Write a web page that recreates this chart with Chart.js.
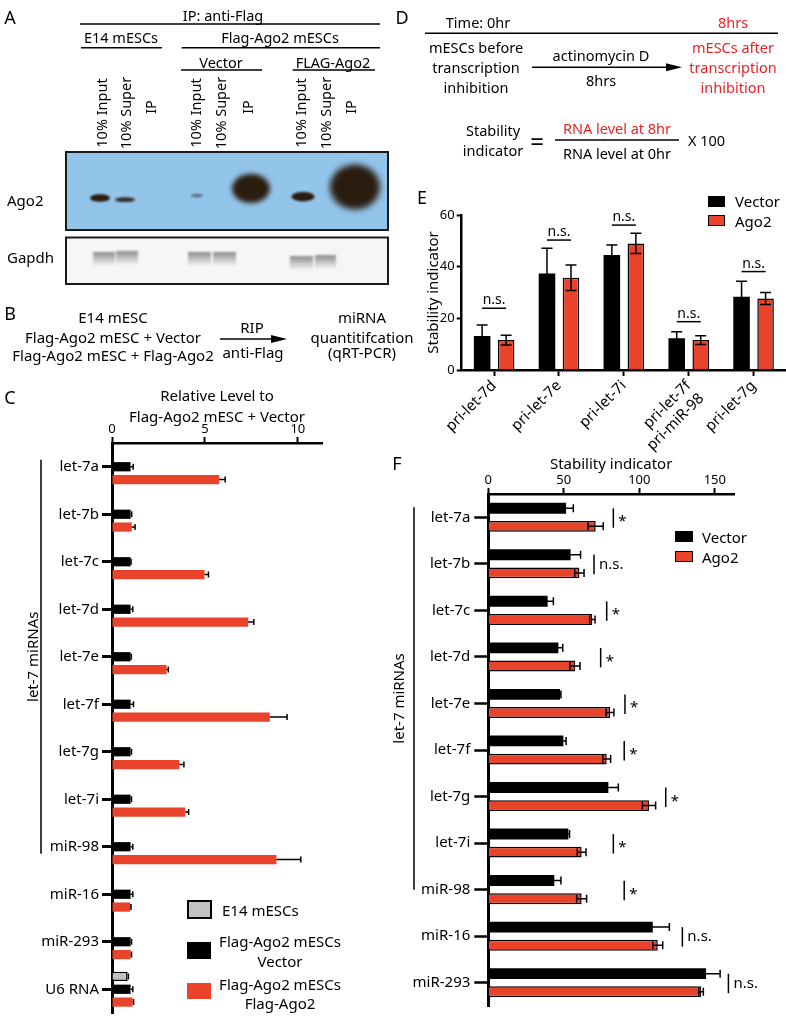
<!DOCTYPE html>
<html>
<head>
<meta charset="utf-8">
<title>Ago2 and let-7 stability</title>
<script src="https://cdn.jsdelivr.net/npm/chart.js@4.4.0/dist/chart.umd.min.js"></script>
<style>
    html, body { margin: 0; padding: 0; background: #fff; }
    body { width: 786px; height: 1019px; overflow: hidden; position: relative; font-family: 'Noto Sans', sans-serif; color: #000; }
    canvas { position: absolute; }
    .box { position: absolute; box-sizing: border-box; }
</style>
</head>
<body>
<canvas id="deco" width="786" height="370" style="left:0;top:0"></canvas>
<canvas id="chartC" width="400" height="645" style="left:0;top:380px"></canvas>
<canvas id="chartE" width="386" height="290" style="left:400px;top:170px"></canvas>
<canvas id="chartF" width="396" height="579" style="left:390px;top:440px"></canvas>

<div class="box" style="left:187px;top:900px;width:25px;height:19px;background:#c2c2c2;border:2.5px solid #000"></div>
<div class="box" style="left:187px;top:942px;width:24px;height:17px;background:#000"></div>
<div class="box" style="left:187px;top:983px;width:24px;height:16px;background:#e9432b"></div>
<div class="box" style="left:708px;top:196px;width:17px;height:11px;background:#000"></div>
<div class="box" style="left:708px;top:215px;width:17px;height:11px;background:#e9432b;border:1.5px solid #000"></div>
<div class="box" style="left:675px;top:531px;width:18px;height:11px;background:#000"></div>
<div class="box" style="left:675px;top:551px;width:18px;height:11px;background:#e9432b;border:1.5px solid #000"></div>

<script>
    // C: RIP qRT-PCR, relative level to Flag-Ago2 mESC + Vector
    const ripLabels = ['let-7a', 'let-7b', 'let-7c', 'let-7d', 'let-7e', 'let-7f', 'let-7g', 'let-7i', 'miR-98', 'miR-16', 'miR-293', 'U6 RNA']
    const ripE14 = [null, null, null, null, null, null, null, null, null, null, null, 0.84]
    const ripE14Err = [null, null, null, null, null, null, null, null, null, null, null, 0.04]
    const ripVector = [1, 1, 1, 1, 1, 1, 1, 1, 1, 1, 1, 1]
    const ripVectorErr = [0.14, 0.06, 0.03, 0.12, 0.04, 0.16, 0.05, 0.05, 0.12, 0.12, 0.05, 0.12]
    const ripAgo2 = [5.77, 1.06, 4.98, 7.33, 2.94, 8.49, 3.62, 3.94, 8.85, 0.97, 1.0, 1.11]
    const ripAgo2Err = [0.32, 0.18, 0.21, 0.3, 0.09, 0.93, 0.25, 0.18, 1.31, 0.05, 0.05, 0.05]
    const ripTicks = [0, 5, 10]

    // E: pri-miRNA stability indicator
    const priLabels = ['pri-let-7d', 'pri-let-7e', 'pri-let-7i', ['pri-let-7f', 'pri-miR-98'], 'pri-let-7g']
    const priVector = [13.2, 37.4, 44.5, 12.3, 28.4]
    const priVectorErr = [4.2, 9.7, 3.9, 2.5, 6.0]
    const priAgo2 = [11.6, 35.7, 49.0, 11.6, 27.7]
    const priAgo2Err = [1.9, 4.9, 3.9, 1.7, 2.3]
    const priSig = ['n.s.', 'n.s.', 'n.s.', 'n.s.', 'n.s.']
    const priSigAt = [23.9, 50.3, 56.1, 18.7, 38.1]

    // F: mature miRNA stability indicator
    const stabLabels = ['let-7a', 'let-7b', 'let-7c', 'let-7d', 'let-7e', 'let-7f', 'let-7g', 'let-7i', 'miR-98', 'miR-16', 'miR-293']
    const stabVector = [51.5, 54.5, 39.3, 46.4, 47.5, 49.7, 79.5, 53.0, 43.7, 108.9, 144.2]
    const stabVectorErr = [4.8, 6.6, 3.8, 2.9, 0.6, 1.8, 6.6, 0.8, 4.4, 11.0, 9.3]
    const stabAgo2 = [71.1, 60.3, 68.9, 57.4, 80.6, 78.4, 106.4, 61.8, 61.8, 112.2, 140.9]
    const stabAgo2Err = [5.0, 3.1, 1.8, 3.3, 2.6, 2.6, 4.4, 2.9, 3.3, 3.3, 1.5]
    const stabSig = ['*', 'n.s.', '*', '*', '*', '*', '*', '*', '*', 'n.s.', 'n.s.']
    const stabSigAt = [82.8, 70, 78.4, 74.4, 90.5, 90, 117.5, 82.8, 90, 128.5, 159]
    const stabTicks = [0, 50, 100, 150]

    const RED = '#e9432b'
    const TXT_RED = '#ec2227'
    const FONT = "'Noto Sans', sans-serif"

    Chart.defaults.font.family = FONT
    Chart.defaults.color = '#000'

    // plain text labels
    function T(s, x, y, o) {
        o = o || {}
        const d = document.createElement('div')
        const tx = o.align === 'left' ? '0' : (o.align === 'right' ? '-100%' : '-50%')
        d.textContent = s
        d.style.cssText = 'position:absolute;white-space:nowrap;line-height:1;left:' + x + 'px;top:' + y + 'px;' +
            'font-size:' + (o.size || 15) + 'px;color:' + (o.color || '#000') + ';' +
            'transform:translate(' + tx + ',-50%)' + (o.rot ? ' rotate(' + o.rot + 'deg)' : '') + ';'
        document.body.appendChild(d)
    }

    // panel letters
    T('A', 10, 17, {size: 18}); T('B', 10, 313, {size: 18}); T('C', 10, 397, {size: 18})
    T('D', 402, 17, {size: 18}); T('E', 422, 197, {size: 18}); T('F', 397, 463, {size: 18})

    // A header
    T('IP: anti-Flag', 223, 15, {size: 14.5})
    T('E14 mESCs', 121, 37, {size: 14.5})
    T('Flag-Ago2 mESCs', 280, 37, {size: 14.5})
    T('Vector', 221, 62, {size: 14.5})
    T('FLAG-Ago2', 333, 62, {size: 14.5})
    const lanes = [[101, '10% Input'], [125, '10% Super'], [150, 'IP'], [195, '10% Input'], [220, '10% Super'], [247, 'IP'],
        [300, '10% Input'], [325, '10% Super'], [350, 'IP']]
    lanes.forEach(function (l) { T(l[1], l[0], l[1] === 'IP' ? 107 : 112.5, {size: 14.5, rot: -90}) })
    T('Ago2', 7, 200, {align: 'left'})
    T('Gapdh', 7, 257, {align: 'left'})

    // B
    T('E14 mESC', 113, 317); T('Flag-Ago2 mESC + Vector', 113, 337); T('Flag-Ago2 mESC + Flag-Ago2', 113, 355)
    T('RIP', 252, 327); T('anti-Flag', 253, 352)
    T('miRNA', 362, 317); T('quantitifcation', 362, 337); T('(qRT-PCR)', 362, 352)

    // D
    T('Time: 0hr', 478, 22, {size: 14.5}); T('8hrs', 733, 22, {size: 14.5, color: TXT_RED})
    T('mESCs before', 476, 47, {size: 14.5}); T('transcription', 476, 67, {size: 14.5}); T('inhibition', 476, 87, {size: 14.5})
    T('actinomycin D', 601, 55, {size: 14.5}); T('8hrs', 601, 80, {size: 14.5})
    T('mESCs after', 733, 47, {size: 14.5, color: TXT_RED}); T('transcription', 733, 67, {size: 14.5, color: TXT_RED})
    T('inhibition', 733, 87, {size: 14.5, color: TXT_RED})
    T('Stability', 493, 130, {size: 14.5}); T('indicator', 493, 150, {size: 14.5})
    T('=', 537, 141, {size: 24})
    T('RNA level at 8hr', 617, 128, {size: 14.5, color: TXT_RED}); T('RNA level at 0hr', 617, 153, {size: 14.5})
    T('X 100', 688, 140, {size: 14.5, align: 'left'})

    // legends
    T('E14 mESCs', 222, 910, {align: 'left'})
    T('Flag-Ago2 mESCs', 280, 941); T('Vector', 280, 961)
    T('Flag-Ago2 mESCs', 280, 984); T('Flag-Ago2', 280, 1003)
    T('Vector', 735, 201, {align: 'left'}); T('Ago2', 735, 221, {align: 'left'})
    T('Vector', 702, 537, {align: 'left'}); T('Ago2', 702, 557, {align: 'left'})

    // lines, arrows and the blot
    const g = document.getElementById('deco').getContext('2d')
    function hline(x0, x1, y, w) {
        g.strokeStyle = '#000'; g.lineWidth = w || 1.5
        g.beginPath(); g.moveTo(x0, y); g.lineTo(x1, y); g.stroke()
    }
    function arrow(x0, x1, y) {
        hline(x0, x1 - 12, y, 1.5)
        g.fillStyle = '#000'
        g.beginPath(); g.moveTo(x1 - 16, y - 4); g.lineTo(x1, y); g.lineTo(x1 - 16, y + 4); g.closePath(); g.fill()
    }
    hline(80, 380, 24); hline(81, 162, 47.7); hline(181.7, 380, 47.7); hline(181, 262, 70); hline(292.7, 375, 70)
    arrow(220, 287, 339)
    hline(425, 778, 33.3); arrow(532, 682, 67.3); hline(555, 679, 140)

    function blob(cx, cy, rx, ry, color, blur) {
        g.save()
        g.filter = 'blur(' + blur + 'px)'
        g.fillStyle = color
        g.beginPath(); g.ellipse(cx, cy, rx, ry, 0, 0, Math.PI * 2); g.fill()
        g.restore()
    }
    // Ago2 film
    g.fillStyle = '#93c4ea'; g.fillRect(66, 152, 322, 78)
    g.save(); g.beginPath(); g.rect(66, 152, 322, 78); g.clip()
    blob(100, 198, 10, 3.8, '#2a1c0f', 1)
    blob(125, 199.7, 10, 2.4, 'rgba(42,28,15,0.9)', 1)
    blob(197, 195.5, 6, 1.8, 'rgba(42,28,15,0.5)', 1.2)
    blob(251, 188.5, 19, 14.5, '#2a1c0f', 2.5)
    blob(303, 196.7, 11.5, 4.8, '#2a1c0f', 1)
    blob(355, 187, 25, 22.5, '#2a1c0f', 3)
    g.restore()
    g.lineWidth = 2; g.strokeStyle = '#1a1a1a'; g.strokeRect(66, 152, 322, 78)
    // Gapdh film
    g.fillStyle = '#f6f6f6'; g.fillRect(66, 237.5, 322, 46.5)
    g.save(); g.beginPath(); g.rect(66, 237.5, 322, 46.5); g.clip()
    ;[[93, 115, 0], [116, 138, -1], [188, 211, 0], [213, 236, 0], [290, 313, 4], [315, 336, 3]].forEach(function (b) {
        const top = 252 + b[2]
        const grad = g.createLinearGradient(0, top, 0, top + 13)
        grad.addColorStop(0, 'rgba(130,130,130,0.9)')
        grad.addColorStop(0.35, 'rgba(150,150,150,0.75)')
        grad.addColorStop(1, 'rgba(200,200,200,0.3)')
        g.save(); g.filter = 'blur(1.3px)'
        g.fillStyle = grad; g.fillRect(b[0], top, b[1] - b[0], 13)
        g.restore()
    })
    g.restore()
    g.lineWidth = 2; g.strokeStyle = '#1a1a1a'; g.strokeRect(66, 237.5, 322, 46.5)

    // chart plugins
    const errorBars = {
        id: 'errorBars',
        afterDatasetsDraw(chart, args, opts) {
            const ctx = chart.ctx
            const horiz = chart.options.indexAxis === 'y'
            const vs = horiz ? chart.scales.x : chart.scales.y
            const cap = opts.cap / 2
            ctx.save()
            ctx.strokeStyle = '#000'
            ctx.lineWidth = opts.width || 1.5
            chart.data.datasets.forEach(function (ds, di) {
                if (!ds.errors) return
                const meta = chart.getDatasetMeta(di)
                meta.data.forEach(function (bar, i) {
                    const v = ds.data[i], e = ds.errors[i]
                    if (v == null || e == null) return
                    const hi = vs.getPixelForValue(v + e)
                    const lo = vs.getPixelForValue(opts.twoSided ? v - e : v)
                    ctx.beginPath()
                    if (horiz) {
                        const c = bar.y
                        ctx.moveTo(lo, c); ctx.lineTo(hi, c)
                        ctx.moveTo(hi, c - cap); ctx.lineTo(hi, c + cap)
                        if (opts.twoSided) { ctx.moveTo(lo, c - cap); ctx.lineTo(lo, c + cap) }
                    } else {
                        const c = bar.x
                        ctx.moveTo(c, lo); ctx.lineTo(c, hi)
                        ctx.moveTo(c - cap, hi); ctx.lineTo(c + cap, hi)
                        if (opts.twoSided) { ctx.moveTo(c - cap, lo); ctx.lineTo(c + cap, lo) }
                    }
                    ctx.stroke()
                })
            })
            ctx.restore()
        }
    }

    const groupBracket = {
        id: 'groupBracket',
        afterDraw(chart, args, opts) {
            const y = chart.scales.y, ctx = chart.ctx
            const top = y.getPixelForValue(opts.from) - opts.padTop
            const bot = y.getPixelForValue(opts.to) + opts.padBottom
            ctx.save()
            ctx.strokeStyle = '#000'; ctx.lineWidth = 1.5
            ctx.beginPath(); ctx.moveTo(opts.x, top); ctx.lineTo(opts.x, bot); ctx.stroke()
            ctx.translate(opts.x - opts.gap, (top + bot) / 2)
            ctx.rotate(-Math.PI / 2)
            ctx.font = '15px ' + FONT
            ctx.fillStyle = '#000'; ctx.textAlign = 'center'; ctx.textBaseline = 'middle'
            ctx.fillText(opts.text, 0, 0)
            ctx.restore()
        }
    }

    // vertical mark + label beside each pair (panel F)
    const sideSig = {
        id: 'sideSig',
        afterDatasetsDraw(chart, args, opts) {
            const x = chart.scales.x, y = chart.scales.y, ctx = chart.ctx
            ctx.save()
            ctx.strokeStyle = '#000'; ctx.lineWidth = 1.5; ctx.fillStyle = '#000'
            ctx.font = '15px ' + FONT; ctx.textAlign = 'left'; ctx.textBaseline = 'alphabetic'
            opts.at.forEach(function (v, i) {
                const px = x.getPixelForValue(v), py = y.getPixelForValue(i)
                ctx.beginPath(); ctx.moveTo(px, py - 9); ctx.lineTo(px, py + 10.5); ctx.stroke()
                const s = opts.text[i]
                ctx.fillText(s, px + 5, s === '*' ? py + 9 : py + 5)
            })
            ctx.restore()
        }
    }

    // horizontal bar + label above each pair (panel E)
    const topSig = {
        id: 'topSig',
        afterDatasetsDraw(chart, args, opts) {
            const y = chart.scales.y, ctx = chart.ctx
            const m0 = chart.getDatasetMeta(0), m1 = chart.getDatasetMeta(1)
            ctx.save()
            ctx.strokeStyle = '#000'; ctx.lineWidth = 1.5; ctx.fillStyle = '#000'
            ctx.font = '14px ' + FONT; ctx.textAlign = 'center'; ctx.textBaseline = 'alphabetic'
            opts.at.forEach(function (v, i) {
                const py = y.getPixelForValue(v)
                const x0 = m0.data[i].x, x1 = m1.data[i].x
                ctx.beginPath(); ctx.moveTo(x0, py); ctx.lineTo(x1, py); ctx.stroke()
                ctx.fillText(opts.text[i], (x0 + x1) / 2, py - 4)
            })
            ctx.restore()
        }
    }

    const noLegend = {legend: {display: false}, tooltip: {enabled: false}}

    // C
    new Chart(document.getElementById('chartC'), {
        type: 'bar',
        data: {
            labels: ripLabels,
            datasets: [
                {label: 'E14 mESCs', data: ripE14, errors: ripE14Err, backgroundColor: '#c2c2c2', borderColor: '#000', borderWidth: 1.5},
                {label: 'Flag-Ago2 mESCs Vector', data: ripVector, errors: ripVectorErr, backgroundColor: '#000'},
                {label: 'Flag-Ago2 mESCs Flag-Ago2', data: ripAgo2, errors: ripAgo2Err, backgroundColor: RED}
            ]
        },
        options: {
            indexAxis: 'y',
            responsive: false,
            animation: false,
            datasets: {bar: {barPercentage: 0.72, categoryPercentage: 0.81}},
            layout: {padding: {left: 0, right: 78, top: 0, bottom: 3}},
            scales: {
                x: {
                    type: 'linear', position: 'top', min: 0, max: 11.3,
                    afterBuildTicks: function (s) { s.ticks = ripTicks.map(function (v) { return {value: v} }) },
                    afterFit: function (s) { s.height = 63 },
                    grid: {drawOnChartArea: false, tickLength: 6, tickWidth: 2, tickColor: '#000'},
                    border: {color: '#000', width: 2.5},
                    ticks: {font: {size: 13}, padding: 0},
                    title: {display: true, text: ['Relative Level to', 'Flag-Ago2 mESC + Vector'], font: {size: 15, lineHeight: 1.35}, padding: {top: 7, bottom: 0}}
                },
                y: {
                    afterFit: function (s) { s.width = 112 },
                    grid: {drawOnChartArea: false, offset: false, tickLength: 10, tickWidth: 3, tickColor: '#000'},
                    border: {color: '#000', width: 3},
                    ticks: {font: {size: 15}, padding: 3}
                }
            },
            plugins: Object.assign({
                errorBars: {cap: 6, width: 1.5, twoSided: false},
                groupBracket: {from: 0, to: 8, padTop: 7, padBottom: 7, x: 41, gap: 7, text: 'let-7 miRNAs'}
            }, noLegend)
        },
        plugins: [errorBars, groupBracket]
    })

    // E
    new Chart(document.getElementById('chartE'), {
        type: 'bar',
        data: {
            labels: priLabels,
            datasets: [
                {label: 'Vector', data: priVector, errors: priVectorErr, backgroundColor: '#000'},
                {label: 'Ago2', data: priAgo2, errors: priAgo2Err, backgroundColor: RED, borderColor: '#000', borderWidth: 1.5}
            ]
        },
        options: {
            responsive: false,
            animation: false,
            datasets: {bar: {barPercentage: 0.69, categoryPercentage: 0.74}},
            layout: {padding: {left: 0, right: 0, top: 45, bottom: 0}},
            scales: {
                x: {
                    afterFit: function (s) { s.height = 90 },
                    grid: {drawOnChartArea: false, offset: false, tickLength: 6, tickWidth: 2, tickColor: '#000'},
                    border: {color: '#000', width: 2.5},
                    ticks: {font: {size: 15}, padding: 1, minRotation: 45, maxRotation: 45, autoSkip: false}
                },
                y: {
                    min: 0, max: 60,
                    afterFit: function (s) { s.width = 61.7 },
                    grid: {drawOnChartArea: false, tickLength: 5, tickWidth: 2, tickColor: '#000'},
                    border: {color: '#000', width: 2.5},
                    ticks: {stepSize: 20, font: {size: 13}, padding: 2},
                    title: {display: true, text: 'Stability indicator', font: {size: 15}, padding: {top: 25, bottom: 0}}
                }
            },
            plugins: Object.assign({
                errorBars: {cap: 11, width: 1.5, twoSided: true},
                topSig: {at: priSigAt, text: priSig}
            }, noLegend)
        },
        plugins: [errorBars, topSig]
    })

    // F
    new Chart(document.getElementById('chartF'), {
        type: 'bar',
        data: {
            labels: stabLabels,
            datasets: [
                {label: 'Vector', data: stabVector, errors: stabVectorErr, backgroundColor: '#000'},
                {label: 'Ago2', data: stabAgo2, errors: stabAgo2Err, backgroundColor: RED, borderColor: '#000', borderWidth: 1.5}
            ]
        },
        options: {
            indexAxis: 'y',
            responsive: false,
            animation: false,
            datasets: {bar: {barPercentage: 0.6, categoryPercentage: 0.78}},
            layout: {padding: {left: 0, right: 52, top: 0, bottom: 4}},
            scales: {
                x: {
                    type: 'linear', position: 'top', min: 0, max: 162.7,
                    afterBuildTicks: function (s) { s.ticks = stabTicks.map(function (v) { return {value: v} }) },
                    afterFit: function (s) { s.height = 54 },
                    grid: {drawOnChartArea: false, tickLength: 6, tickWidth: 2, tickColor: '#000'},
                    border: {color: '#000', width: 2.5},
                    ticks: {font: {size: 13}, padding: 0},
                    title: {display: true, text: 'Stability indicator', font: {size: 15}, padding: {top: 16, bottom: 0}}
                },
                y: {
                    afterFit: function (s) { s.width = 98.3 },
                    grid: {drawOnChartArea: false, offset: false, tickLength: 14, tickWidth: 2.5, tickColor: '#000'},
                    border: {color: '#000', width: 3},
                    ticks: {font: {size: 15}, padding: 4}
                }
            },
            plugins: Object.assign({
                errorBars: {cap: 8, width: 1.5, twoSided: true},
                sideSig: {at: stabSigAt, text: stabSig},
                groupBracket: {from: 0, to: 8, padTop: 10, padBottom: 0, x: 24, gap: 14, text: 'let-7 miRNAs'}
            }, noLegend)
        },
        plugins: [errorBars, sideSig, groupBracket]
    })
</script>
</body>
</html>
